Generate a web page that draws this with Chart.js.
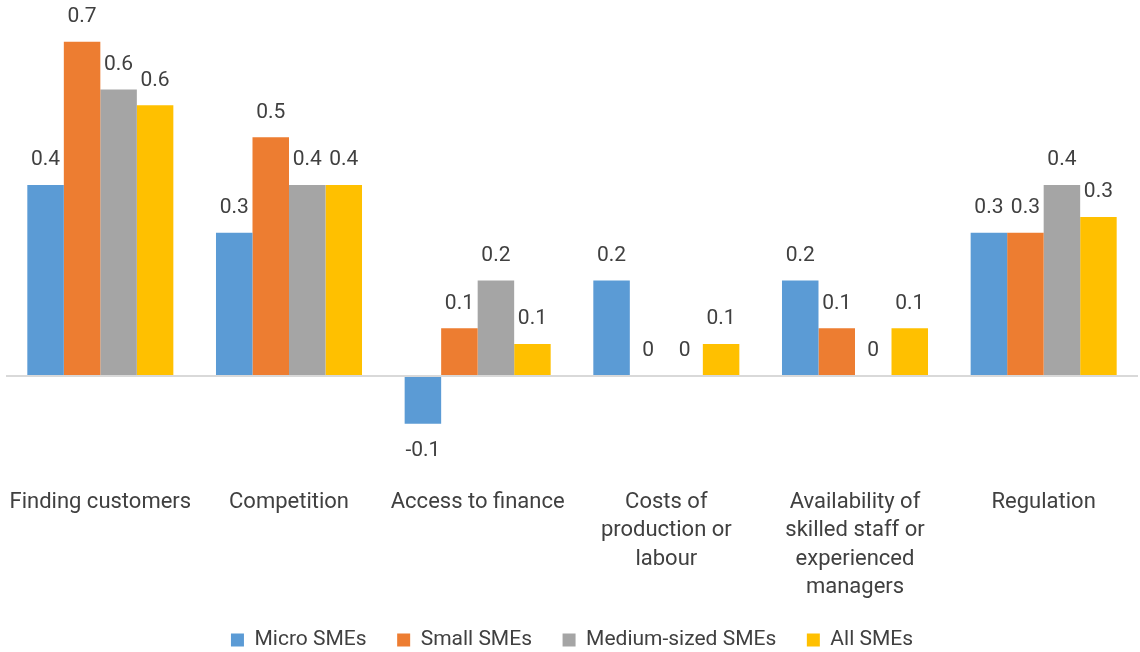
<!DOCTYPE html>
<html>
<head>
<meta charset="utf-8">
<title>Obstacles by firm size</title>
<script src="https://cdn.jsdelivr.net/npm/chart.js@4.4.1/dist/chart.umd.min.js"></script>
<style>
  html, body { margin: 0; padding: 0; background: #fff; }
  #wrap { width: 1140px; height: 652px; }
</style>
</head>
<body>
<div id="wrap"><canvas id="obstaclesChart"></canvas></div>
<script>
// categories (multi-line ones are pre-wrapped)
const categories = [
  "Finding customers",
  "Competition",
  "Access to finance",
  ["Costs of", "production or", "labour"],
  ["Availability of", "skilled staff or", "experienced", "managers"],
  "Regulation",
];

const seriesNames = ["Micro SMEs", "Small SMEs", "Medium-sized SMEs", "All SMEs"];
const seriesColors = ["#5b9bd5", "#ed7d31", "#a5a5a5", "#ffc000"];

const microSMEs = [0.4, 0.3, -0.1, 0.2, 0.2, 0.3];
const smallSMEs = [0.7, 0.5, 0.1, 0, 0.1, 0.3];
const mediumSMEs = [0.6, 0.4, 0.2, 0, 0, 0.4];
const allSMEs = [0.567, 0.4, 0.067, 0.067, 0.1, 0.333];

const FONT = "Roboto, 'Open Sans', sans-serif";
const TEXT = "#404040";

// value labels above (or below, for negatives) each bar, one decimal
const valueLabels = {
  id: "valueLabels",
  afterDatasetsDraw(chart) {
    const ctx = chart.ctx;
    ctx.save();
    ctx.font = "21px " + FONT;
    ctx.fillStyle = TEXT;
    ctx.textAlign = "center";
    ctx.textBaseline = "middle";
    chart.data.datasets.forEach((ds, i) => {
      chart.getDatasetMeta(i).data.forEach((bar, j) => {
        const v = ds.data[j];
        const y = v < 0 ? bar.y + 27 : bar.y - 25;
        ctx.fillText(String(Math.round(v * 10) / 10), bar.x, y);
      });
    });
    ctx.restore();
  },
};

const seriesData = [microSMEs, smallSMEs, mediumSMEs, allSMEs];

new Chart(document.getElementById("obstaclesChart"), {
  type: "bar",
  data: {
    labels: categories,
    datasets: seriesData.map((values, i) => ({
      label: seriesNames[i],
      data: values,
      backgroundColor: seriesColors[i],
      borderWidth: 0,
      categoryPercentage: 0.774,
      barPercentage: 1,
    })),
  },
  options: {
    responsive: true,
    maintainAspectRatio: false,
    animation: false,
    layout: { padding: { top: 18, left: 6, right: 2, bottom: -8.5 } },
    plugins: {
      title: { display: false },
      tooltip: { enabled: false },
      legend: {
        position: "bottom",
        labels: {
          boxWidth: 13,
          boxHeight: 13,
          padding: 30.6,
          color: TEXT,
          font: { family: FONT, size: 21 },
        },
      },
    },
    scales: {
      x: {
        grid: { display: false, drawTicks: false },
        border: { display: false },
        ticks: {
          color: TEXT,
          font: { family: FONT, size: 22, lineHeight: "28.5px" },
          padding: -2.85,
          autoSkip: false,
          maxRotation: 0,
          minRotation: 0,
        },
      },
      y: {
        min: -0.24,
        max: 0.75,
        border: { display: false },
        grid: {
          drawTicks: false,
          lineWidth: 2,
          color: (c) => (c.tick && Math.abs(c.tick.value) < 1e-9 ? "#d9d9d9" : "transparent"),
        },
        ticks: { display: false, stepSize: 0.1 },
      },
    },
  },
  plugins: [valueLabels],
});
</script>
</body>
</html>
